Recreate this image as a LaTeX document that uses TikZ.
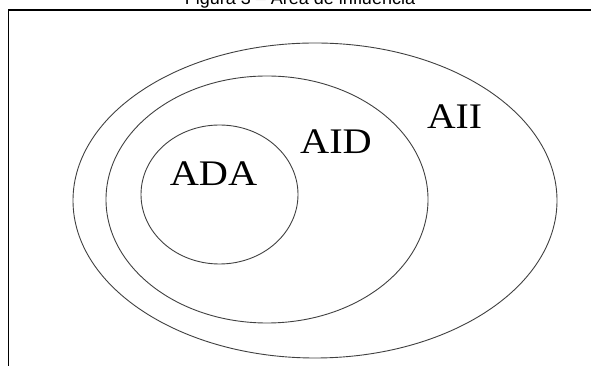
\documentclass[tikz,border=0pt]{standalone}
\usepackage{fontspec}
\setmainfont{Liberation Serif}
\newfontfamily\titlefont{Liberation Sans}
\usetikzlibrary{shapes.geometric}
\begin{document}
\begin{tikzpicture}[x=1pt,y=1pt,
  zone/.style={ellipse, draw=black!75, line width=0.9pt, inner sep=0pt, outer sep=0pt},
  lab/.style={font=\fontsize{36}{36}\selectfont, anchor=base, inner sep=0pt},
  frameline/.style={line width=1.5pt, black}]
\useasboundingbox (0,0) rectangle (591,374);
\clip (0,0) rectangle (591,374);
\node[font=\titlefont\fontsize{18}{18}\selectfont, anchor=base, inner sep=0pt] (title) at (300,369.5) {Figura 3 – Área de influência};
\coordinate (fbl) at (8.5,8);
\coordinate (ftl) at (8.5,364);
\coordinate (ftr) at (592,364);
\draw[frameline] (fbl) -- (ftl) -- (ftr);
\node[zone, minimum width=484, minimum height=315] (aii) at (315,173.5) {};
\node[zone, minimum width=322, minimum height=247] (aid) at (267,174.5) {};
\node[zone, minimum width=157, minimum height=139] (ada) at (219.5,179.5) {};
\node[lab] (tada) at (213.5,188) {\scalebox{1.12}[1]{ADA}};
\node[lab] (taid) at (336,220) {\scalebox{1.12}[1]{AID}};
\node[lab] (taii) at (454.5,245) {\scalebox{1.1}[1]{AII}};
\end{tikzpicture}
\end{document}
